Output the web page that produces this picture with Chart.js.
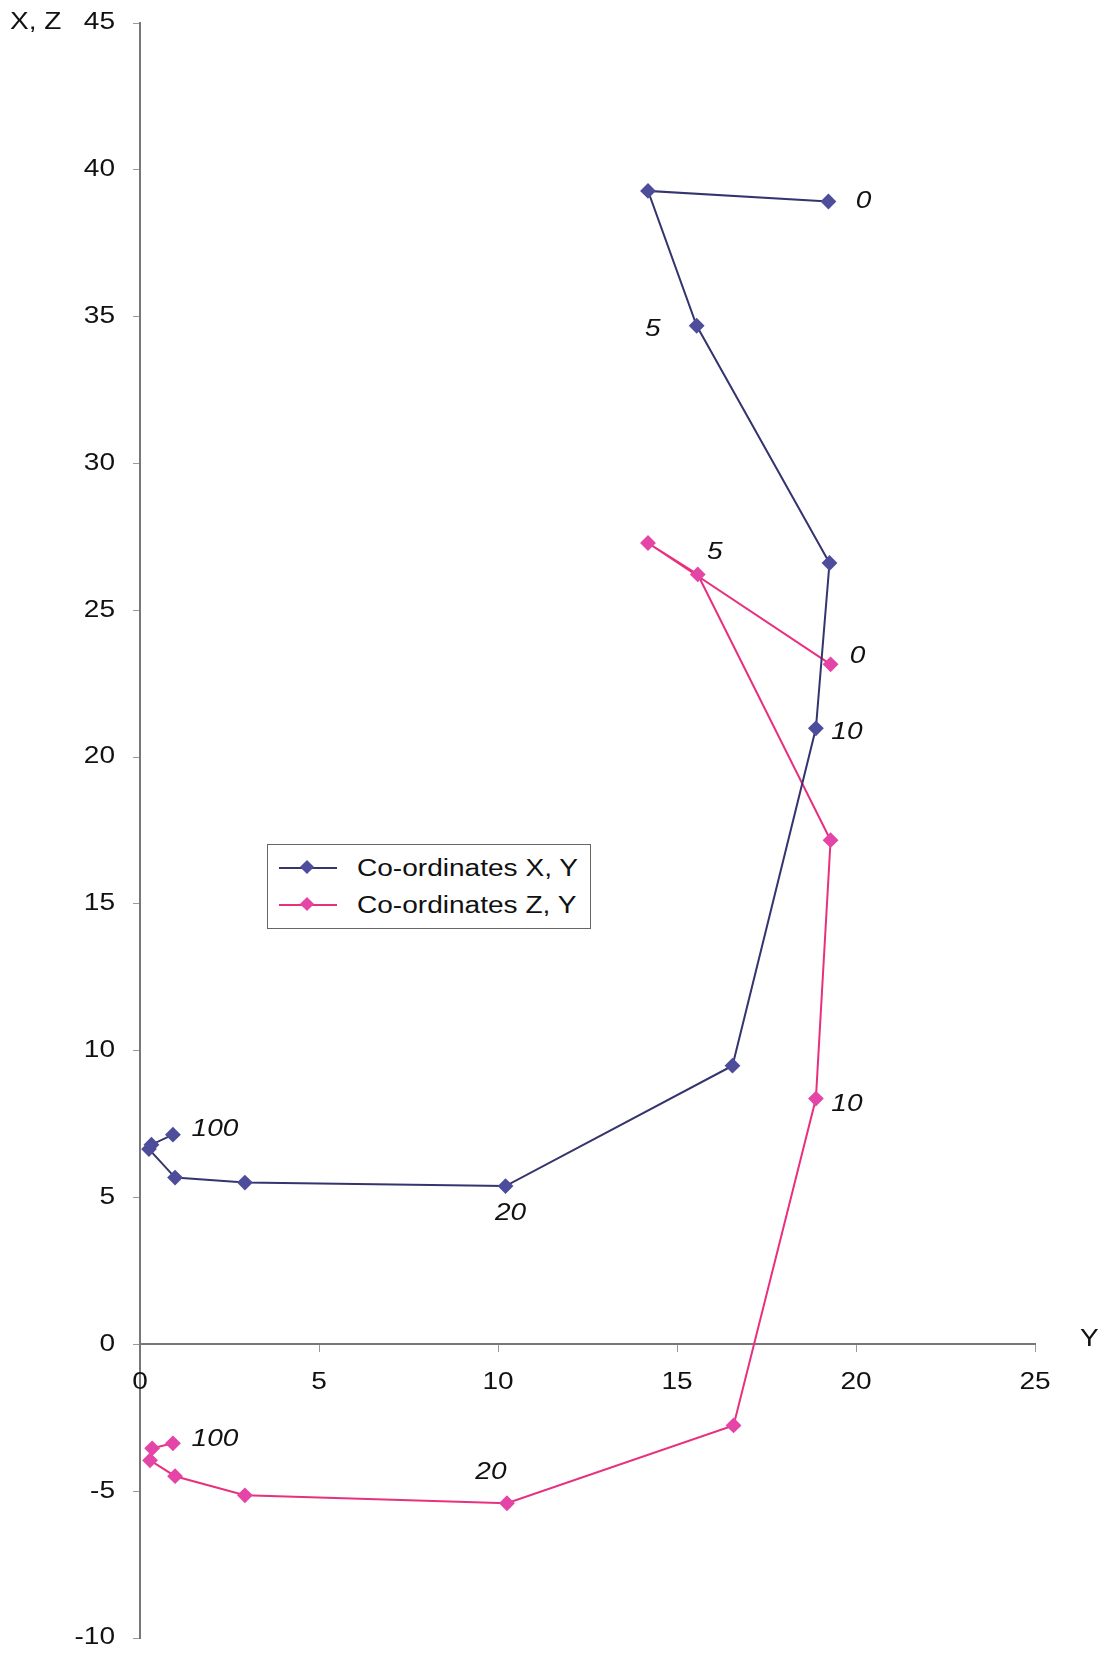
<!DOCTYPE html>
<html>
<head>
<meta charset="utf-8">
<script src="https://cdn.jsdelivr.net/npm/chart.js@4/dist/chart.umd.min.js"></script>
<style>
    html, body { margin: 0; padding: 0; background: #fff; overflow: hidden; }
    #wrap { position: relative; width: 1104px; height: 1655px; overflow: hidden; }
    #chart { position: absolute; left: 0; top: 0; }
    #legend {
        position: absolute; left: 267px; top: 844px; width: 322px; height: 83px;
        border: 1px solid #666; background: #fff;
        font-family: "Liberation Sans", Arial, sans-serif; font-size: 23px; color: #111;
    }
    .row { position: absolute; left: 0; height: 30px; display: flex; align-items: center; white-space: nowrap; }
    .row .ln { position: relative; width: 58px; height: 2px; margin-left: 11px; margin-right: 20px; }
    .row .dm { position: absolute; left: 23px; top: -5px; width: 10px; height: 10px; transform: rotate(45deg); }
    .row .tx { display: inline-block; transform: scaleX(1.22); transform-origin: left center; }
</style>
</head>
<body>
<div id="wrap">
    <canvas id="chart" width="1104" height="1655"></canvas>
    <div id="legend">
        <div class="row" style="top:8px"><span class="ln" style="background:#34346e"><span class="dm" style="background:#4d4d9c"></span></span><span class="tx">Co-ordinates X, Y</span></div>
        <div class="row" style="top:45px"><span class="ln" style="background:#e8307e"><span class="dm" style="background:#e445a6"></span></span><span class="tx">Co-ordinates Z, Y</span></div>
    </div>
</div>
<script>
// Série X,Y : abscisse = coordonnée Y, ordonnée = coordonnée X
const yForX = [19.23, 14.19, 15.55, 19.26, 18.88, 16.55, 10.21, 2.93, 0.98, 0.25, 0.32, 0.92];
const coordX = [38.92, 39.28, 34.69, 26.61, 20.98, 9.49, 5.39, 5.51, 5.68, 6.65, 6.80, 7.14];

// Série Z,Y
const yForZ = [19.29, 14.19, 15.58, 19.29, 18.88, 16.58, 10.25, 2.93, 0.98, 0.28, 0.34, 0.92];
const coordZ = [23.16, 27.29, 26.22, 17.17, 8.37, -2.76, -5.41, -5.14, -4.49, -3.95, -3.54, -3.37];

// Étiquettes des points (temps)
const labelsXY = ['0', '', '5', '', '10', '', '20', '', '', '', '', '100'];
const labelsZY = ['0', '', '5', '', '10', '', '20', '', '', '', '', '100'];

const xTicks = [0, 5, 10, 15, 20, 25];
const yTicks = [-10, -5, 0, 5, 10, 15, 20, 25, 30, 35, 40, 45];

const FONT = '"Liberation Sans", Arial, sans-serif';
const SX = 1.22; // le scan est étiré horizontalement

// décalages des étiquettes (px)
const labelOffsets = [
    { '0': [35, 0], '5': [-44, 4], '10': [31, 4], '20': [5, 28], '100': [42, -5] },
    { '0': [27, -8], '5': [17, -22], '10': [31, 6], '20': [-16, -31], '100': [42, -4] }
];
const pointLabels = [labelsXY, labelsZY];

const toPoints = (xs, ys) => xs.map((x, i) => ({ x: x, y: ys[i] }));

function drawText(ctx, text, x, y, align) {
    const w = ctx.measureText(text).width * SX;
    let x0 = x;
    if (align === 'center') x0 = x - w / 2;
    if (align === 'right') x0 = x - w;
    ctx.save();
    ctx.translate(x0, y);
    ctx.scale(SX, 1);
    ctx.textAlign = 'left';
    ctx.fillText(text, 0, 0);
    ctx.restore();
}

const extras = {
    id: 'extras',
    afterDatasetsDraw(chart) {
        const ctx = chart.ctx;
        const xs = chart.scales.x, ys = chart.scales.y;
        ctx.save();
        ctx.fillStyle = '#111';
        ctx.textBaseline = 'middle';

        // graduations
        ctx.font = '23px ' + FONT;
        const y0 = ys.getPixelForValue(0);
        xTicks.forEach(v => drawText(ctx, String(v), xs.getPixelForValue(v), y0 + 38, 'center'));
        yTicks.forEach(v => drawText(ctx, String(v), 115, ys.getPixelForValue(v), 'right'));

        // étiquettes des points
        ctx.font = 'italic 23px ' + FONT;
        chart.data.datasets.forEach((ds, d) => {
            const meta = chart.getDatasetMeta(d);
            pointLabels[d].forEach((lab, i) => {
                if (!lab) return;
                const el = meta.data[i];
                const off = labelOffsets[d][lab] || [0, 0];
                drawText(ctx, lab, el.x + off[0], el.y + off[1], 'center');
            });
        });

        // titres des axes
        ctx.font = '23px ' + FONT;
        drawText(ctx, 'X, Z', 10, ys.getPixelForValue(45), 'left');
        drawText(ctx, 'Y', xs.right + 45, y0 - 5, 'left');
        ctx.restore();
    }
};

new Chart(document.getElementById('chart'), {
    type: 'scatter',
    data: {
        datasets: [
            {
                label: 'Co-ordinates X, Y',
                data: toPoints(yForX, coordX),
                showLine: true,
                borderColor: '#34346e',
                borderWidth: 2,
                pointStyle: 'rectRot',
                pointRadius: 6.5,
                pointBackgroundColor: '#4d4d9c',
                pointBorderColor: '#4d4d9c'
            },
            {
                label: 'Co-ordinates Z, Y',
                data: toPoints(yForZ, coordZ),
                showLine: true,
                borderColor: '#e8307e',
                borderWidth: 2,
                pointStyle: 'rectRot',
                pointRadius: 6.5,
                pointBackgroundColor: '#e445a6',
                pointBorderColor: '#e445a6'
            }
        ]
    },
    options: {
        responsive: false,
        animation: false,
        devicePixelRatio: 1,
        layout: { padding: { top: 23, right: 69, bottom: 17, left: 0 } },
        plugins: { legend: { display: false }, tooltip: { enabled: false } },
        scales: {
            x: {
                type: 'linear',
                position: { y: 0 },
                min: 0, max: 25,
                afterBuildTicks: s => { s.ticks = xTicks.map(v => ({ value: v })); },
                border: { color: '#777', width: 2 },
                grid: { drawOnChartArea: false, tickLength: 7, color: '#999' },
                ticks: { display: false }
            },
            y: {
                type: 'linear',
                min: -10, max: 45,
                afterBuildTicks: s => { s.ticks = yTicks.map(v => ({ value: v })); },
                afterFit: s => { s.width = 140; },
                border: { color: '#777', width: 2 },
                grid: { drawOnChartArea: false, tickLength: 7, color: '#999' },
                ticks: { display: false }
            }
        }
    },
    plugins: [extras]
});
</script>
</body>
</html>
